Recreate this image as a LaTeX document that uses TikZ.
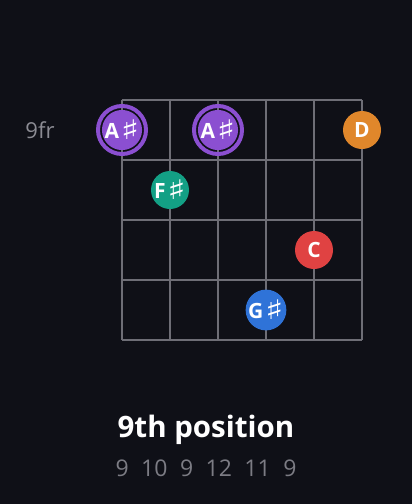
\documentclass[tikz,border=0pt]{standalone}
\usepackage{fontspec}
\usepackage{graphicx}
\setmainfont{Open Sans}
\newfontfamily\symfont{DejaVu Sans}
\definecolor{bg}{HTML}{0F1017}
\definecolor{gridc}{HTML}{6E6E76}
\definecolor{purp}{HTML}{8B4FD1}
\definecolor{tealc}{HTML}{13A085}
\definecolor{redc}{HTML}{E04242}
\definecolor{bluec}{HTML}{2F73D8}
\definecolor{orangec}{HTML}{E0872B}
\definecolor{subc}{HTML}{7C7C84}
\definecolor{frc}{HTML}{8C8C94}
\newcommand{\shp}{\kern1.5pt\raisebox{-1.8pt}{\scalebox{1.45}[1]{\symfont\mdseries\fontsize{27}{27}\selectfont ♯}}}
\begin{document}
\begin{tikzpicture}[x=1pt,y=-1pt,
  gridline/.style={draw=gridc,line width=1.3pt},
  dot/.style={circle,minimum size=38pt,inner sep=0pt,text=white,font=\bfseries\fontsize{21}{21}\selectfont},
  rootring/.style={circle,draw=purp,line width=4pt,minimum size=48pt,inner sep=0pt}]
\fill[bg] (0,0) rectangle (412,504);
\useasboundingbox (0,0) rectangle (412,504);
% grid
\foreach \i in {0,...,5} {\draw[gridline] (122+48*\i,100) -- (122+48*\i,340);}
\foreach \j in {0,...,4} {\draw[gridline] (122,100+60*\j) -- (362,100+60*\j);}
% notes
\node[rootring] (r1) at (122,130) {};
\node[dot,fill=purp] (n1) at (122,130) {A\shp};
\node[rootring] (r2) at (218,130) {};
\node[dot,fill=purp] (n2) at (218,130) {A\shp};
\node[dot,fill=orangec] (n3) at (362,130) {D};
\node[dot,fill=tealc] (n4) at (170,190) {F\shp};
\node[dot,fill=redc] (n5) at (314,250) {C};
\node[dot,fill=bluec] (n6) at (266,310) {G\shp};
% labels
\node[text=frc,font=\fontsize{22}{22}\selectfont] (fr) at (40,130) {9fr};
\node[text=white,font=\bfseries\fontsize{29.5}{30}\selectfont] (title) at (206,430) {9th position};
\node[text=subc,font=\fontsize{23}{23}\selectfont] (frets) at (206,468) {9\hspace{12.5pt}10\hspace{12.5pt}9\hspace{12.5pt}12\hspace{12.5pt}11\hspace{12.5pt}9};
\end{tikzpicture}
\end{document}
